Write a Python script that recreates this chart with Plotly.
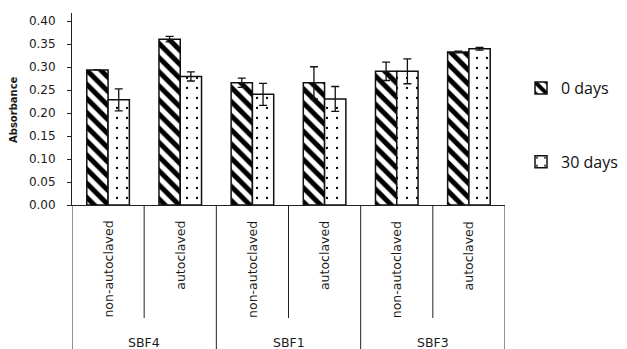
import plotly.graph_objects as go

groups = ["SBF4", "SBF1", "SBF3"]
treatments = ["non-autoclaved", "autoclaved"]
series_names = ["0 days", "30 days"]
days0 = [0.294, 0.361, 0.266, 0.266, 0.291, 0.333]
err0 = [0.0, 0.006, 0.010, 0.035, 0.020, 0.002]
days30 = [0.229, 0.280, 0.241, 0.231, 0.291, 0.340]
err30 = [0.024, 0.010, 0.024, 0.027, 0.027, 0.003]
y_ticks = [0.0, 0.05, 0.10, 0.15, 0.20, 0.25, 0.30, 0.35, 0.40]

cats = [f"{g} {t}" for g in groups for t in treatments]
inner = [t for g in groups for t in treatments]

fig = go.Figure()
fig.add_bar(
    x=cats, y=days0, name=series_names[0], legendgroup="a",
    marker=dict(color="white", line=dict(color="#111", width=1.5),
                pattern=dict(shape="\\", fgcolor="#000", bgcolor="white", size=10,
                             solidity=0.5, fgopacity=1)),
    error_y=dict(type="data", array=err0, color="#111", thickness=1.3, width=4),
)
fig.add_bar(
    x=cats, y=days30, name=series_names[1], legendgroup="b",
    marker=dict(color="white", line=dict(color="#111", width=1.5),
                pattern=dict(shape=".", fgcolor="#000", bgcolor="white", size=10,
                             solidity=0.04, fgopacity=1)),
    error_y=dict(type="data", array=err30, color="#111", thickness=1.3, width=4),
)

# page body adds an 8px offset; screen coords below are compensated
plot_h = 192
def py(px):
    return (205 - px) / plot_h

shapes = []
n = len(cats)
for i in range(n + 1):
    bottom = py(357) if i % 2 == 0 else py(318)
    shapes.append(dict(type="line", xref="x", yref="paper", x0=i - 0.5, x1=i - 0.5,
                       y0=0, y1=bottom, line=dict(color="#222", width=1)))

annotations = []
for i, t in enumerate(inner):
    annotations.append(dict(x=i, xref="x", y=py(219), yref="paper", text=t, textangle=-90,
                            showarrow=False, xanchor="center", yanchor="top",
                            font=dict(family="DejaVu Sans", size=12.5, color="#1a1a1a")))
for j, g in enumerate(groups):
    annotations.append(dict(x=2 * j + 0.5, xref="x", y=py(342), yref="paper", text=g,
                            showarrow=False, xanchor="center", yanchor="middle",
                            font=dict(family="DejaVu Sans", size=12.5, color="#1a1a1a")))
annotations.append(dict(x=(14 - 72) / 433, xref="paper", y=py(110), yref="paper",
                        text="<b>Absorbance</b>", textangle=-90, showarrow=False,
                        xanchor="center", yanchor="middle",
                        font=dict(family="DejaVu Sans", size=10, color="#1a1a1a")))

legend_font = dict(family="Open Sans", size=16, color="#111")
fig.update_layout(
    width=627, height=349,
    margin=dict(l=64, r=130, t=5, b=152, pad=0, autoexpand=False),
    paper_bgcolor="white", plot_bgcolor="white",
    barmode="group", bargap=0.41, bargroupgap=0,
    shapes=shapes, annotations=annotations,
    showlegend=True,
    legend=dict(x=1.037, xanchor="left", y=py(71), yanchor="top", font=legend_font,
                bgcolor="rgba(0,0,0,0)", traceorder="grouped", tracegroupgap=50),
    xaxis=dict(showticklabels=False, ticks="", showline=True, linecolor="#222",
               linewidth=1, showgrid=False, zeroline=False, range=[-0.5, n - 0.5]),
    yaxis=dict(range=[0, 0.418], tickvals=y_ticks, tickformat=".2f", ticks="outside",
               ticklen=4, tickcolor="#222", showline=True, linecolor="#222", linewidth=1,
               showgrid=False, zeroline=False, ticklabelstandoff=9,
               tickfont=dict(family="DejaVu Sans", size=12, color="#1a1a1a")),
)
fig.write_html("out.html")
